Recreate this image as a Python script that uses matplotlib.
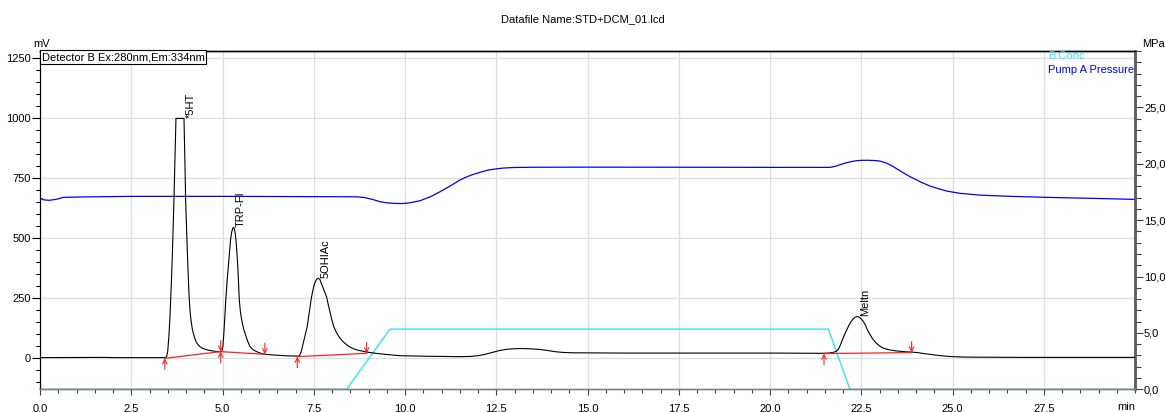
import matplotlib
matplotlib.use("Agg")
import matplotlib.pyplot as plt
from matplotlib.ticker import MultipleLocator, FuncFormatter, FixedLocator

plt.rcParams['font.family'] = ['Liberation Sans', 'DejaVu Sans']

# ---------------- data ----------------
# Detector B fluorescence trace (min, mV)
trace_time = [0.00, 1.80, 2.00, 3.40, 3.44, 3.47, 3.50, 3.53, 3.56, 3.58, 3.605, 3.63, 3.65,
              3.67, 3.69, 3.71, 3.725,
              3.945, 3.96, 3.975, 3.99, 4.015, 4.04, 4.065, 4.09, 4.115, 4.14, 4.17, 4.20,
              4.24, 4.28, 4.33, 4.38, 4.44, 4.50, 4.58, 4.65, 4.72, 4.80, 4.88, 4.95,
              4.98, 5.01, 5.04, 5.065, 5.09, 5.12, 5.15, 5.17, 5.20, 5.22, 5.25, 5.28, 5.30,
              5.32, 5.345, 5.37, 5.395, 5.42, 5.44, 5.46, 5.49, 5.52, 5.56, 5.59, 5.62, 5.66,
              5.70, 5.75, 5.80, 5.86, 5.95, 6.05, 6.16, 6.30, 6.50, 6.70, 6.90, 7.08,
              7.12, 7.16, 7.21, 7.26, 7.32, 7.38, 7.44, 7.49, 7.53, 7.58, 7.625, 7.67, 7.71,
              7.78, 7.85, 7.90, 7.95, 8.00, 8.05, 8.12, 8.20, 8.28, 8.36, 8.46, 8.56, 8.68,
              8.80, 8.90, 9.00, 9.20, 9.50, 9.86, 10.50,
              11.50, 11.80, 12.00, 12.20, 12.40, 12.60, 12.80, 13.00, 13.15, 13.40, 13.70,
              13.90, 14.10, 14.30, 14.60, 14.80, 16.00, 18.10, 20.00,
              21.40, 21.60, 21.70, 21.78, 21.83, 21.88, 21.93, 21.98, 22.04, 22.10, 22.16,
              22.22, 22.28, 22.34, 22.39, 22.44, 22.50, 22.56, 22.62, 22.67, 22.74, 22.80,
              22.86, 22.92, 23.00, 23.10, 23.20, 23.29, 23.45, 23.60, 23.75, 23.88, 24.05,
              24.20, 24.40, 24.57, 24.75, 25.00, 25.30, 25.60, 27.00, 30.00]
trace_mv = [3, 4, 3, 3, 4, 8, 30, 90, 170, 243, 340, 451, 555,
            660, 780, 900, 1000,
            1000, 900, 780, 660, 540, 430, 330, 243, 190, 155, 125, 104,
            84, 68, 57, 49, 43, 39, 35, 33, 31, 29, 28, 27,
            30, 50, 110, 180, 243, 310, 365, 400, 455, 493, 525, 542, 546,
            542, 525, 493, 440, 380, 310, 243, 195, 165, 135, 117, 104, 84,
            68, 50, 41, 34, 27, 21, 17, 15, 13, 11, 10, 9,
            14, 30, 62, 95, 132, 195, 257, 293, 315, 330, 334, 328, 312,
            285, 257, 222, 190, 158, 132, 108, 88, 73, 62, 50, 42, 35,
            31, 28, 25, 21, 16, 11, 9,
            7, 8, 11, 17, 25, 33, 38, 40, 41, 40, 37,
            33, 28, 25, 23, 23, 22, 22, 22,
            21, 22, 24, 27, 31, 40, 56, 76, 98, 118, 137,
            153, 165, 172, 174, 172, 164, 153, 137, 118, 100, 84,
            72, 62, 52, 43, 38, 35, 31, 29, 27, 26, 24,
            20, 16, 13, 10, 7, 5.5, 5, 4, 4]

# Pump A pressure (min, MPa)
pressure_time = [0.00, 0.05, 0.10, 0.25, 0.45, 0.64, 1.20, 2.56, 5.30, 8.68, 8.90, 9.15,
                 9.32, 9.50, 9.68, 9.87, 10.05, 10.20, 10.41, 10.70, 10.96, 11.25, 11.50,
                 11.70, 11.87, 12.10, 12.28, 12.50, 12.70, 13.00, 13.50, 15.00, 20.27, 21.64,
                 21.80, 21.95, 22.10, 22.30, 22.47, 22.70, 22.90, 23.01, 23.20, 23.38, 23.60,
                 23.80, 23.93, 24.15, 24.38, 24.60, 24.84, 25.20, 25.75, 26.50, 27.60, 29.00,
                 30.00]
pressure_mpa = [16.78, 16.92, 16.80, 16.76, 16.85, 17.02, 17.06, 17.11, 17.11, 17.07, 17.00,
                16.80, 16.63, 16.54, 16.49, 16.47, 16.50, 16.58, 16.72, 17.08, 17.52, 18.05,
                18.55, 18.85, 19.06, 19.28, 19.44, 19.55, 19.62, 19.67, 19.69, 19.70, 19.68,
                19.68, 19.78, 19.95, 20.09, 20.24, 20.30, 20.31, 20.28, 20.24, 20.05, 19.74,
                19.30, 18.92, 18.71, 18.35, 18.03, 17.80, 17.58, 17.38, 17.22, 17.12, 17.02,
                16.92, 16.84]

# B.Conc gradient (min, %)
bconc_time = [0.00, 8.40, 9.59, 21.60, 22.19, 30.00]
bconc_pct = [0.0, 0.0, 17.8, 17.8, 0.0, 0.0]

# Peaks
peak_names = ['*5HT', 'TRP-FI', '5OHIAc', 'Meltn']
peak_times = [3.92, 5.30, 7.625, 22.39]
peak_heights = [1000, 548, 333, 175]

# Integration baselines (start time, start mV, end time, end mV)
base_start_t = [3.42, 4.95, 7.05, 21.48]
base_start_v = [0, 28, 7, 20]
base_end_t = [4.95, 6.16, 8.95, 23.88]
base_end_v = [28, 17, 21, 24]

# axis ticks
time_ticks = [0, 2.5, 5, 7.5, 10, 12.5, 15, 17.5, 20, 22.5, 25, 27.5]
mv_ticks = [0, 250, 500, 750, 1000, 1250]
mpa_ticks = [0, 5, 10, 15, 20, 25]

title = 'Datafile Name:STD+DCM_01.lcd'
detector_label = 'Detector B Ex:280nm,Em:334nm'

# ---------------- figure ----------------
W, H = 1165, 412
fig = plt.figure(figsize=(W / 100, H / 100), dpi=100)
L, R, T, B = 40, 1135, 51, 389.3
ax = fig.add_axes([L / W, (H - B) / H, (R - L) / W, (B - T) / H])
ax.set_xlim(0, 30)
ax.set_ylim(-129, 1281)
ax.set_zorder(3)
ax.patch.set_visible(False)

# pressure axis (right)
axp = ax.twinx()
axp.set_ylim(0, 30)
axp.set_zorder(2)
axp.patch.set_visible(False)

# B.Conc axis (hidden, bottom layer; also carries the grid)
axc = ax.twinx()
axc.set_ylim(0, 100)
axc.set_zorder(1)
axc.axis('off')

fs = 8
grid_col = '#dedede'

# grid drawn beneath all series
for xv in time_ticks:
    axc.plot([xv, xv], [0, 1], transform=ax.get_xaxis_transform(), color=grid_col, lw=0.9, zorder=0)
for yv in mv_ticks:
    axc.plot([0, 1], [yv, yv], transform=ax.get_yaxis_transform(), color=grid_col, lw=0.9, zorder=0)

comma = FuncFormatter(lambda v, p: ('%.1f' % v).replace('.', ','))
ax.xaxis.set_major_locator(FixedLocator(time_ticks))
ax.xaxis.set_minor_locator(MultipleLocator(0.5))
ax.yaxis.set_major_locator(FixedLocator(mv_ticks))
ax.yaxis.set_minor_locator(MultipleLocator(50))
ax.xaxis.set_major_formatter(comma)
ax.yaxis.set_major_formatter(FuncFormatter(lambda v, p: '%d' % v))
ax.tick_params(axis='x', which='major', length=4, width=0.8, pad=6, labelsize=fs, color='#444444')
ax.tick_params(axis='x', which='minor', length=3, width=0.8, color='#444444')
ax.tick_params(axis='y', which='major', length=6, width=0.8, pad=0.5, labelsize=fs)
ax.tick_params(axis='y', which='minor', length=3, width=0.8)

axp.yaxis.set_major_locator(FixedLocator(mpa_ticks))
axp.yaxis.set_minor_locator(MultipleLocator(1))
axp.yaxis.set_major_formatter(comma)
axp.tick_params(axis='y', which='major', length=6, width=0.8, pad=0.5, labelsize=fs, color='#444444')
axp.tick_params(axis='y', which='minor', length=4, width=0.8, color='#444444')

for a in (ax, axp):
    a.spines['top'].set_color('black')
    a.spines['top'].set_linewidth(1.0)
    a.spines['left'].set_color('black')
    a.spines['left'].set_linewidth(0.8)
    a.spines['bottom'].set_color('#808080')
    a.spines['bottom'].set_linewidth(1.0)
    a.spines['right'].set_color('#606060')
    a.spines['right'].set_linewidth(1.8)

# series
axc.plot(bconc_time, bconc_pct, color='#2ee8f5', lw=1.0, clip_on=False, zorder=2)
axp.plot(pressure_time, pressure_mpa, color='#0000ff', lw=0.9, zorder=2)
ax.plot(trace_time, trace_mv, color='black', lw=0.8, zorder=4)

# integration baselines and markers
for ts, vs, te, ve in zip(base_start_t, base_start_v, base_end_t, base_end_v):
    ax.plot([ts, te], [vs, ve], color='#ff2020', lw=0.9, zorder=5)
arrow_len = 46
for ts, vs in zip(base_start_t, base_start_v):
    ax.annotate('', xy=(ts, vs), xytext=(ts, vs - arrow_len),
                arrowprops=dict(arrowstyle='->', color='#ff2020', lw=0.8,
                                shrinkA=0, shrinkB=0, mutation_scale=8), zorder=6)
for te, ve in zip(base_end_t, base_end_v):
    ax.annotate('', xy=(te, ve), xytext=(te, ve + arrow_len),
                arrowprops=dict(arrowstyle='->', color='#ff2020', lw=0.8,
                                shrinkA=0, shrinkB=0, mutation_scale=8), zorder=6)

# peak labels
for name, t, h in zip(peak_names, peak_times, peak_heights):
    ax.text(t + 0.07, h, name, rotation=90, ha='left', va='bottom', fontsize=fs, zorder=6)

# labels / texts
fig.text(582.5 / W, 1 - 19 / H, title, ha='center', va='center', fontsize=fs)
fig.text(33 / W, 1 - 44 / H, 'mV', ha='left', va='center', fontsize=fs)
fig.text(1142 / W, 1 - 44 / H, 'MPa', ha='left', va='center', fontsize=fs)
fig.text(1135 / W, 1 - 407 / H, 'min', ha='right', va='center', fontsize=fs)

ax.text(0.0015, 0.997, detector_label, transform=ax.transAxes, ha='left', va='top',
        fontsize=fs, zorder=7,
        bbox=dict(facecolor='white', edgecolor='black', lw=0.8, boxstyle='square,pad=0.15'))
ax.text(0.9205, 0.985, 'B.Conc', transform=ax.transAxes, ha='left', va='center',
        fontsize=fs, color='#2ee8f5', zorder=7)
ax.text(0.9205, 0.944, 'Pump A Pressure', transform=ax.transAxes, ha='left', va='center',
        fontsize=fs, color='#0000ff', zorder=7)

fig.savefig('out.png', dpi=100)
